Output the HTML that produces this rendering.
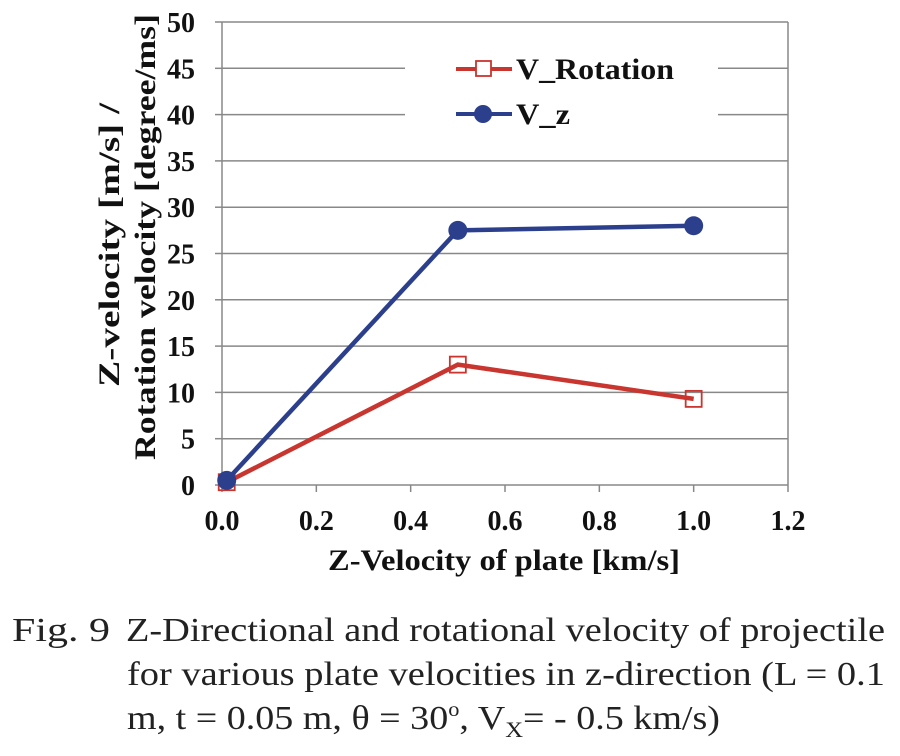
<!DOCTYPE html>
<html><head><meta charset="utf-8"><style>
html,body{margin:0;padding:0;background:#fff;}
svg{display:block;font-family:"Liberation Serif",serif;}
</style></head><body>
<svg id="chart" width="900" height="756" viewBox="0 0 900 756">
<g id="grid"></g>
<g id="axes"></g>
<g id="series"></g>
<g>
<rect x="405" y="40" width="313" height="100" fill="#fff"/>
<g>
<line x1="456" y1="69" x2="512" y2="69" stroke="#c9352f" stroke-width="4"/>
<rect x="476" y="61" width="15" height="15" fill="#fff" stroke="#c9352f" stroke-width="1.8"/>
<text x="516" y="79" font-size="30" font-weight="bold" fill="#111" textLength="158" lengthAdjust="spacingAndGlyphs">V_Rotation</text></g>
<g>
<line x1="456" y1="114" x2="512" y2="114" stroke="#2b3f8c" stroke-width="4"/>
<circle cx="483" cy="114" r="9" fill="#2b3f8c"/>
<text x="516" y="124" font-size="30" font-weight="bold" fill="#111" textLength="54" lengthAdjust="spacingAndGlyphs">V_z</text></g>
</g>
<g font-size="30" font-weight="bold" fill="#111">
<text transform="translate(119,245) rotate(-90)" text-anchor="middle" textLength="284" lengthAdjust="spacingAndGlyphs">Z-velocity [m/s] /</text>
<text transform="translate(155,237) rotate(-90)" text-anchor="middle" textLength="446" lengthAdjust="spacingAndGlyphs">Rotation velocity [degree/ms]</text>
</g>
<text x="504" y="570" text-anchor="middle" font-size="30" font-weight="bold" fill="#111" textLength="352" lengthAdjust="spacingAndGlyphs">Z-Velocity of plate [km/s]</text>
<g font-size="34" fill="#222">
<text x="12" y="641" textLength="98" lengthAdjust="spacingAndGlyphs">Fig. 9</text>
<text x="126" y="641" textLength="759" lengthAdjust="spacingAndGlyphs">Z-Directional and rotational velocity of projectile</text>
<text x="127" y="685" textLength="758" lengthAdjust="spacingAndGlyphs">for various plate velocities in z-direction (L = 0.1</text>
<text x="127" y="729" textLength="593" lengthAdjust="spacingAndGlyphs">m, t = 0.05 m, θ = 30<tspan font-size="20" dy="-13">o</tspan><tspan dy="13">, V</tspan><tspan font-size="22" dy="8">X</tspan><tspan dy="-8">= - 0.5 km/s)</tspan></text>
</g>
</svg>
<script>
const xValues=[0.01,0.5,1.0];
const rotationValues=[0.3,13,9.3];
const vzValues=[0.5,27.5,28];
const xTicks=[0,0.2,0.4,0.6,0.8,1.0,1.2];
const xTickLabels=["0.0","0.2","0.4","0.6","0.8","1.0","1.2"];
const yTicks=[0,5,10,15,20,25,30,35,40,45,50];
const NS="http://www.w3.org/2000/svg";
const L=222,R=788,T=22,B=485;
function xs(v){return L+(v-0)/(1.2-0)*(R-L);}
function ys(v){return B-(v-0)/(50-0)*(B-T);}
function mk(tag,attrs,parent){const e=document.createElementNS(NS,tag);for(const k in attrs)e.setAttribute(k,attrs[k]);parent.appendChild(e);return e;}
const grid=document.getElementById('grid'),axes=document.getElementById('axes'),series=document.getElementById('series');
yTicks.forEach(v=>{
 const g=mk('line',{x1:L,x2:R,y1:ys(v),y2:ys(v),stroke:'#888','stroke-width':1.5},grid);
 
 
 mk('line',{x1:L-7,x2:L,y1:ys(v),y2:ys(v),stroke:'#888','stroke-width':1.5},axes);
 const t=mk('text',{x:195,y:ys(v)+10,'text-anchor':'end','font-size':28,'font-weight':'bold',fill:'#111'},axes);
 t.textContent=v;
 
 
});
mk('line',{x1:L,x2:L,y1:T,y2:B,stroke:'#888','stroke-width':1.5},axes);
mk('line',{x1:R,x2:R,y1:T,y2:B,stroke:'#888','stroke-width':1.5},axes);
xTicks.forEach((v,i)=>{
 mk('line',{x1:xs(v),x2:xs(v),y1:B,y2:B+7,stroke:'#888','stroke-width':1.5},axes);
 const t=mk('text',{x:xs(v),y:530,'text-anchor':'middle','font-size':28,'font-weight':'bold',fill:'#111'},axes);
 t.textContent=xTickLabels[i];
 
 
});
function pts(vals){return xValues.map((x,i)=>xs(x)+','+ys(vals[i])).join(' ');}
const rl=mk('polyline',{points:pts(rotationValues),fill:'none',stroke:'#c9352f','stroke-width':4.5},series);


rotationValues.forEach((v,i)=>{
 const m=mk('rect',{x:xs(xValues[i])-8,y:ys(v)-8,width:16,height:16,fill:'none',stroke:'#c9352f','stroke-width':1.8},series);
 
 
});
const vl=mk('polyline',{points:pts(vzValues),fill:'none',stroke:'#2b3f8c','stroke-width':4.5},series);


vzValues.forEach((v,i)=>{
 const m=mk('circle',{cx:xs(xValues[i]),cy:ys(v),r:9.5,fill:'#2b3f8c'},series);
 
 
});
</script>
</body></html>
